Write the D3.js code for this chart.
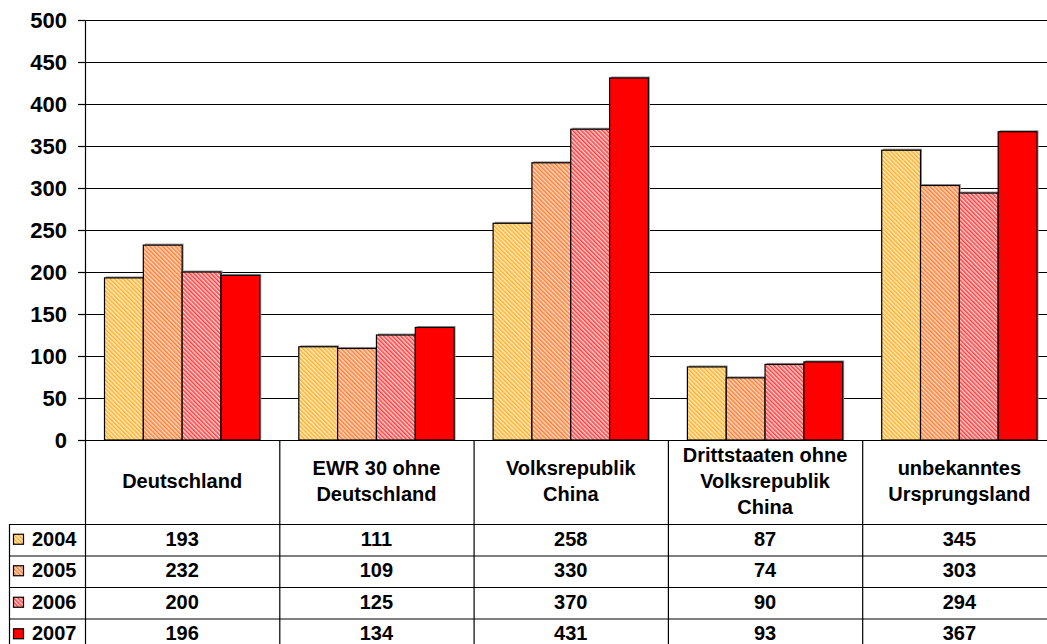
<!DOCTYPE html>
<html>
<head>
<meta charset="utf-8">
<script src="https://cdn.jsdelivr.net/npm/d3@7"></script>
<style>
  html, body { margin: 0; padding: 0; background: #fff; }
  svg { display: block; font-family: "Liberation Sans", Arial, sans-serif; font-weight: bold; }
</style>
</head>
<body>
<svg id="chart" width="1047" height="644"></svg>
<script>
// Kategorien (Ursprungsländer), mehrzeilig für die Tabellenköpfe
const categories = [
  ["Deutschland"],
  ["EWR 30 ohne", "Deutschland"],
  ["Volksrepublik", "China"],
  ["Drittstaaten ohne", "Volksrepublik", "China"],
  ["unbekanntes", "Ursprungsland"]
];
const years = ["2004", "2005", "2006", "2007"];
const values2004 = [193, 111, 258, 87, 345];
const values2005 = [232, 109, 330, 74, 303];
const values2006 = [200, 125, 370, 90, 294];
const values2007 = [196, 134, 431, 93, 367];
const yTicks = [0, 50, 100, 150, 200, 250, 300, 350, 400, 450, 500];

const series = [values2004, values2005, values2006, values2007];
const catKeys = categories.map(c => c.join(" "));

// Füllungen: drei fein schraffierte Muster und ein volles Rot
const fills = [
  { stripe: "#FFAE2A", bg: "#FFEDC2" },
  { stripe: "#FF7C30", bg: "#FFDCC8" },
  { stripe: "#FF3A3A", bg: "#FFD4D4" },
  { solid: "#FF0000" }
];

const svg = d3.select("#chart");
const W = 1047;

const left = 85, band = 194.3;
const yTop = 20, yBottom = 440;

const x0 = d3.scaleBand().domain(catKeys).range([left, left + band * categories.length]).padding(0);
const x1 = d3.scaleBand().domain(years).range([19.5, band - 19.5]).padding(0);
const y = d3.scaleLinear().domain([0, 500]).range([yBottom, yTop]);

const defs = svg.append("defs");
fills.forEach((f, i) => {
  if (f.solid) return;
  const p = defs.append("pattern")
    .attr("id", "hatch" + i)
    .attr("patternUnits", "userSpaceOnUse")
    .attr("width", 3).attr("height", 3)
    .attr("patternTransform", "rotate(-45)");
  p.append("rect").attr("width", 3).attr("height", 3).attr("fill", f.bg);
  p.append("rect").attr("width", 1.5).attr("height", 3).attr("fill", f.stripe);
});
const fillOf = i => fills[i].solid ? fills[i].solid : `url(#hatch${i})`;

// Y-Achse mit Teilstrichen
const yAxis = d3.axisLeft(y).tickValues(yTicks).tickSize(7).tickPadding(11);
const gy = svg.append("g").attr("transform", `translate(${left},0)`).call(yAxis);
gy.select(".domain").attr("stroke", "#000").attr("stroke-width", 1.2);
gy.selectAll(".tick line").attr("stroke", "#000").attr("stroke-width", 1.2);
gy.selectAll(".tick text")
  .attr("fill", "#000")
  .style("font-size", "22px")
  .style("font-weight", "bold")
  .style("font-family", '"Liberation Sans", Arial, sans-serif');

// Gitterlinien
svg.append("g").selectAll("line")
  .data(yTicks.filter(t => t > 0))
  .join("line")
  .attr("x1", left).attr("x2", W)
  .attr("y1", d => Math.round(y(d)) + 0.5).attr("y2", d => Math.round(y(d)) + 0.5)
  .attr("stroke", "#000").attr("stroke-width", 1.2);

// Balken (mit leichtem Schatten)
const gBars = svg.append("g");
categories.forEach((c, ci) => {
  years.forEach((yr, si) => {
    const v = series[si][ci];
    const bx = x0(catKeys[ci]) + x1(yr);
    gBars.append("rect")
      .attr("x", bx + 1.5).attr("y", y(v) - 1.5)
      .attr("width", x1.bandwidth()).attr("height", yBottom - y(v) + 1.5)
      .attr("fill", "#9a9a9a");
  });
});
categories.forEach((c, ci) => {
  years.forEach((yr, si) => {
    const v = series[si][ci];
    const bx = x0(catKeys[ci]) + x1(yr);
    gBars.append("rect")
      .attr("x", bx).attr("y", y(v))
      .attr("width", x1.bandwidth()).attr("height", yBottom - y(v))
      .attr("fill", fillOf(si))
      .attr("stroke", "#000").attr("stroke-width", 1.2);
  });
});

// Nulllinie
svg.append("line")
  .attr("x1", left - 7).attr("x2", W)
  .attr("y1", yBottom + 0.5).attr("y2", yBottom + 0.5)
  .attr("stroke", "#000").attr("stroke-width", 1.2);

// Datentabelle
const headerBottom = 524;
const rowH = 31.5;
const tableLeft = 9;
const rowTops = years.map((_, i) => headerBottom + i * rowH);
const tableBottom = headerBottom + years.length * rowH;

const gT = svg.append("g");
// Spaltentrenner
d3.range(categories.length + 1).forEach(i => {
  const xx = left + i * band;
  gT.append("line")
    .attr("x1", xx + 0.5).attr("x2", xx + 0.5)
    .attr("y1", yBottom).attr("y2", tableBottom)
    .attr("stroke", "#000").attr("stroke-width", 1.2);
});
gT.append("line")
  .attr("x1", tableLeft + 0.5).attr("x2", tableLeft + 0.5)
  .attr("y1", headerBottom).attr("y2", tableBottom)
  .attr("stroke", "#000").attr("stroke-width", 1.2);
// Zeilenlinien
rowTops.concat([tableBottom]).forEach(ry => {
  gT.append("line")
    .attr("x1", tableLeft).attr("x2", W)
    .attr("y1", ry + 0.5).attr("y2", ry + 0.5)
    .attr("stroke", "#000").attr("stroke-width", 1.2);
});

// Kopfzeilen
const headerMid = 488;
categories.forEach((lines, ci) => {
  const cx = x0(catKeys[ci]) + band / 2;
  const first = headerMid - (lines.length - 1) * 13;
  const t = gT.append("text")
    .attr("text-anchor", "middle")
    .style("font-size", "20px")
    .attr("fill", "#000");
  lines.forEach((ln, li) => {
    t.append("tspan").attr("x", cx).attr("y", first + li * 26).text(ln);
  });
});

// Legende und Werte
years.forEach((yr, si) => {
  const top = rowTops[si];
  const mid = top + rowH / 2;
  gT.append("rect")
    .attr("x", 13.5).attr("y", mid - 5.5)
    .attr("width", 10).attr("height", 10)
    .attr("fill", fillOf(si))
    .attr("stroke", "#000").attr("stroke-width", 1.2);
  gT.append("text")
    .attr("x", 32).attr("y", mid + 6)
    .style("font-size", "20px")
    .attr("fill", "#000")
    .text(yr);
  categories.forEach((c, ci) => {
    gT.append("text")
      .attr("x", x0(catKeys[ci]) + band / 2)
      .attr("y", mid + 6)
      .attr("text-anchor", "middle")
      .style("font-size", "20px")
      .attr("fill", "#000")
      .text(series[si][ci]);
  });
});
</script>
</body>
</html>
